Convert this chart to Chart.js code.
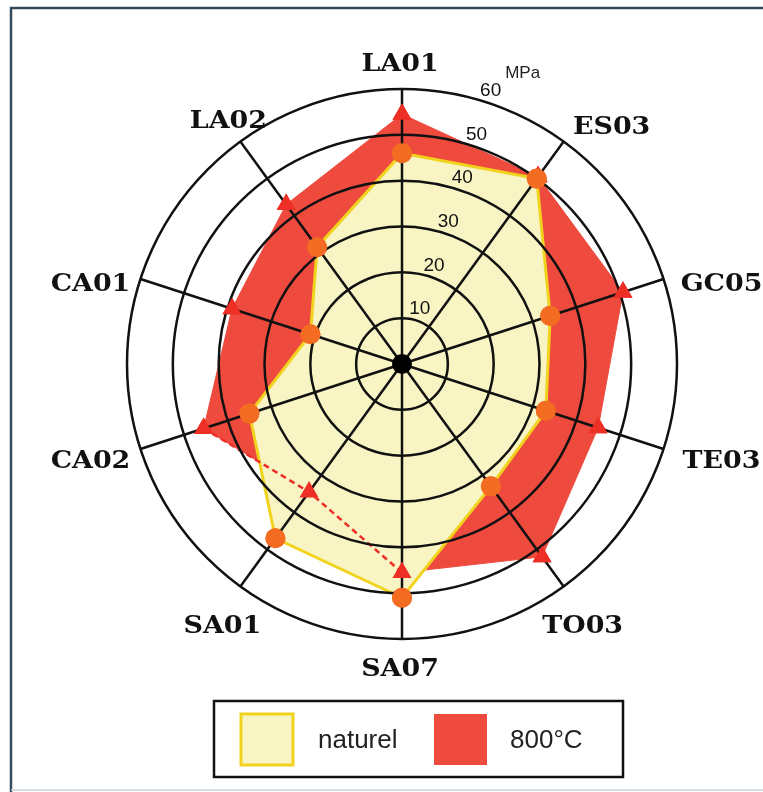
<!DOCTYPE html>
<html lang="fr">
<head>
<meta charset="utf-8">
<style>
  html, body { margin: 0; padding: 0; background: #fff; }
</style>
</head>
<body>
<canvas id="myChart" width="763" height="792"></canvas>
<script src="https://cdn.jsdelivr.net/npm/chart.js"></script>
<script>
// sites around the radar, clockwise from the top
const sites = ['LA01', 'ES03', 'GC05', 'TE03', 'TO03', 'SA07', 'SA01', 'CA02', 'CA01', 'LA02'];
// strength in MPa
const naturel = [46, 50, 34, 33, 33, 51, 47, 35, 21, 31.5];
const heated  = [54.5, 50.5, 50.7, 45, 52, 45.5, 34.5, 45.5, 39, 43];
// stretch of the 800°C outline that shows dashed over the yellow area
const dashedSites = ['SA07', 'SA01', 'CA02'];
const ringTicks = [10, 20, 30, 40, 50, 60];
const unitLabel = 'MPa';
const seriesNames = ['naturel', '800°C'];

// layout only: where each site name sits relative to the end of its axis
const labelNudge = [[-2, -24], [48, -14], [58, 6], [58, 13], [19, 40],
                    [-2, 31], [-18, 40], [-50, 13], [-50, 6], [-12, -20]];

const YELLOW_FILL = '#f8f4c4';
const YELLOW_LINE = '#f1d31e';
const ORANGE = '#f36c22';
const RED_FILL = '#ee4a3e';
const RED_MARK = '#ee2f26';

const dashedData = heated.map((v, i) => dashedSites.includes(sites[i]) ? v : null);

const extras = {
  id: 'extras',
  afterDraw(chart) {
    const ctx = chart.ctx;
    const r = chart.scales.r;

    // markers on top of the grid
    [2, 1].forEach(di => {
      chart.getDatasetMeta(di).data.forEach(p => p.draw(ctx, chart.chartArea));
    });

    // centre blob
    ctx.save();
    ctx.fillStyle = '#000';
    ctx.beginPath();
    ctx.arc(r.xCenter, r.yCenter, 10, 0, Math.PI * 2);
    ctx.fill();
    ctx.restore();

    // ring values along a slanted line
    ctx.save();
    ctx.fillStyle = '#111';
    ctx.font = '19px "Liberation Sans", Arial, sans-serif';
    ctx.textAlign = 'center';
    ctx.textBaseline = 'middle';
    const a = 18 * Math.PI / 180;
    let last = null;
    ringTicks.forEach(v => {
      const d = r.getDistanceFromCenterForValue(v) + 12;
      const x = r.xCenter + d * Math.sin(a);
      const y = r.yCenter - d * Math.cos(a);
      ctx.fillText(String(v), x, y);
      last = {x, y};
    });
    ctx.font = '17px "Liberation Sans", Arial, sans-serif';
    ctx.fillStyle = '#222';
    ctx.fillText(unitLabel, last.x + 32, last.y - 18);
    ctx.restore();

    // site names
    ctx.save();
    ctx.fillStyle = '#111';
    ctx.font = 'bold 24px "DejaVu Serif", serif';
    ctx.textAlign = 'center';
    ctx.textBaseline = 'middle';
    sites.forEach((s, i) => {
      const p = r.getPointPosition(i, r.drawingArea);
      const n = labelNudge[i];
      ctx.save();
      ctx.translate(p.x + n[0], p.y + n[1]);
      ctx.scale(1.12, 1);
      ctx.fillText(s, 0, 0);
      ctx.restore();
    });
    ctx.restore();

    // legend box
    ctx.save();
    ctx.strokeStyle = '#111';
    ctx.lineWidth = 2.5;
    ctx.strokeRect(214, 701, 409, 76);
    ctx.fillStyle = YELLOW_FILL;
    ctx.fillRect(241, 714, 52, 51);
    ctx.strokeStyle = YELLOW_LINE;
    ctx.lineWidth = 3;
    ctx.strokeRect(241, 714, 52, 51);
    ctx.fillStyle = RED_FILL;
    ctx.fillRect(434, 714, 53, 51);
    ctx.fillStyle = '#222';
    ctx.font = '26px "Liberation Sans", Arial, sans-serif';
    ctx.textBaseline = 'middle';
    ctx.textAlign = 'left';
    ctx.fillText(seriesNames[0], 318, 741);
    ctx.fillText(seriesNames[1], 510, 741);
    ctx.restore();

    // outer frame
    ctx.save();
    ctx.strokeStyle = '#34495a';
    ctx.lineWidth = 2.5;
    ctx.beginPath();
    ctx.moveTo(11, 792);
    ctx.lineTo(11, 8);
    ctx.lineTo(763, 8);
    ctx.stroke();
    ctx.strokeStyle = '#c9d3da';
    ctx.lineWidth = 1.5;
    ctx.beginPath();
    ctx.moveTo(11, 790);
    ctx.lineTo(763, 790);
    ctx.stroke();
    ctx.restore();
  }
};

const config = {
  type: 'radar',
  data: {
    labels: sites,
    datasets: [{
      label: seriesNames[1] + ' (dashed)',
      data: dashedData,
      borderColor: RED_MARK,
      borderWidth: 2.5,
      borderDash: [6, 4],
      fill: false,
      pointRadius: 0,
      spanGaps: false
    }, {
      label: seriesNames[0],
      data: naturel,
      backgroundColor: YELLOW_FILL,
      borderColor: YELLOW_LINE,
      borderWidth: 3,
      fill: 'origin',
      pointStyle: 'circle',
      pointRadius: 10,
      pointBackgroundColor: ORANGE,
      pointBorderColor: ORANGE,
      pointBorderWidth: 0
    }, {
      label: seriesNames[1],
      data: heated,
      backgroundColor: RED_FILL,
      borderColor: RED_FILL,
      borderWidth: 1,
      fill: 'origin',
      pointStyle: 'triangle',
      pointRadius: 11,
      pointBackgroundColor: RED_MARK,
      pointBorderColor: RED_MARK,
      pointBorderWidth: 0
    }]
  },
  options: {
    responsive: false,
    devicePixelRatio: 1,
    animation: false,
    layout: { padding: { left: 127, right: 86, top: 89, bottom: 153 } },
    plugins: {
      legend: { display: false },
      tooltip: { enabled: false }
    },
    elements: { line: { tension: 0 } },
    scales: {
      r: {
        min: 0,
        max: 60,
        ticks: { display: false, stepSize: 10 },
        pointLabels: { display: false },
        grid: { circular: true, color: '#111', lineWidth: 2.5, z: 1 },
        angleLines: { color: '#111', lineWidth: 2.5 }
      }
    }
  },
  plugins: [extras]
};

const myChart = new Chart(document.getElementById('myChart'), config);
</script>
</body>
</html>
